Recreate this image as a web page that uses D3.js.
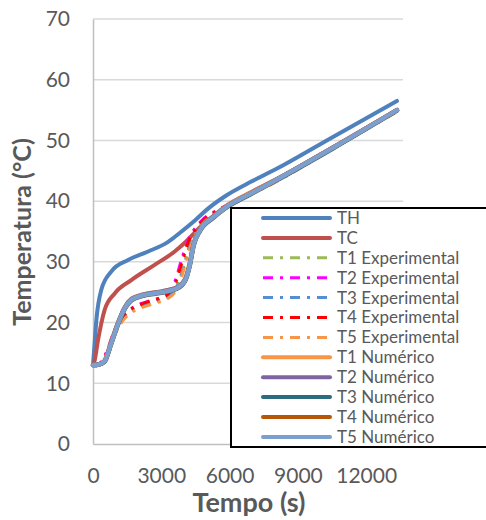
<!DOCTYPE html>
<html>
<head>
<meta charset="utf-8">
<script src="https://cdn.jsdelivr.net/npm/d3@7"></script>
<style>
  body { margin: 0; background: #fff; }
  text { font-family: Lato, "Open Sans", sans-serif; fill: #595959; }
</style>
</head>
<body>
<div id="chart"></div>
<script>
// time values (s) for each group of series
var tempoTH  = [0, 60, 150, 365, 800, 1540, 2420, 3300, 3820, 4500, 5000, 5800, 7000, 8000, 10500, 13350];
var tempoTC  = [0, 75, 220, 512, 951, 1683, 2708, 3587, 4100, 4700, 5300, 5800, 7000, 8000, 10500, 13350];
var tempoExp = [0, 300, 600, 900, 1200, 1500, 1800, 2100, 2400, 2700, 3000, 3300, 3600, 3900, 4200, 4500, 4800, 5400, 6000, 7000, 8000, 10000, 12000, 13350];
var tempoNum = [0, 250, 500, 800, 1100, 1400, 1700, 2200, 3000, 3700, 4050, 4250, 4420, 4700, 5300, 5800, 6900, 8000, 10500, 13350];

// temperatures (°C)
var TH = [13, 16, 20.5, 25.4, 28.4, 30.3, 31.7, 33.3, 34.8, 36.9, 38.6, 40.8, 43.3, 45.2, 50.5, 56.5];
var TC = [13, 13.8, 17.1, 22.1, 24.8, 27.0, 29.5, 31.7, 33.4, 35.7, 37.6, 39.1, 41.6, 43.5, 48.8, 55.0];

var T1exp = [13, 13.2, 14.8, 18.0, 20.3, 21.6, 22.4, 22.9, 23.3, 23.6, 23.9, 24.4, 25.6, 28.2, 32.3, 34.8, 36.4, 38.2, 39.4, 41.4, 43.3, 47.6, 52.0, 54.9];
var T2exp = [13, 13.3, 15.2, 18.3, 20.6, 21.8, 22.6, 23.1, 23.5, 23.8, 24.2, 24.9, 26.8, 30.5, 33.8, 35.6, 36.9, 38.4, 39.5, 41.5, 43.4, 47.7, 52.1, 55.0];
var T3exp = [13, 13.1, 14.6, 17.8, 20.1, 21.4, 22.2, 22.7, 23.1, 23.4, 23.7, 24.2, 25.3, 28.0, 32.0, 34.6, 36.3, 38.1, 39.3, 41.3, 43.2, 47.5, 51.9, 54.8];
var T4exp = [13, 13.3, 15.0, 18.2, 20.5, 21.7, 22.5, 23.0, 23.4, 23.7, 24.1, 24.7, 26.3, 29.8, 33.4, 35.3, 36.7, 38.3, 39.4, 41.4, 43.3, 47.6, 52.0, 54.9];
var T5exp = [13, 13.0, 14.3, 17.5, 19.7, 21.1, 21.9, 22.4, 22.8, 23.2, 23.5, 24.0, 25.0, 27.6, 31.6, 34.4, 36.2, 38.0, 39.2, 41.2, 43.1, 47.4, 51.8, 54.7];

var T1num = [13, 13.1, 13.7, 16.8, 20.0, 22.5, 23.9, 24.6, 25.1, 25.8, 27.2, 29.8, 33.0, 35.3, 37.5, 39.0, 41.3, 43.4, 48.7, 55.0];
var T2num = [13, 13.1, 13.6, 16.7, 19.9, 22.5, 23.9, 24.6, 25.1, 25.8, 27.1, 29.6, 32.9, 35.3, 37.5, 38.9, 41.2, 43.4, 48.7, 55.0];
var T3num = [13, 13.1, 13.5, 16.5, 19.7, 22.3, 23.7, 24.4, 24.9, 25.6, 26.9, 29.4, 32.7, 35.1, 37.3, 38.8, 41.1, 43.3, 48.6, 54.9];
var T4num = [13, 13.1, 13.6, 16.6, 19.8, 22.4, 23.8, 24.5, 25.0, 25.7, 27.0, 29.5, 32.8, 35.2, 37.4, 38.9, 41.2, 43.4, 48.7, 55.0];
var T5num = [13, 13.1, 13.6, 16.6, 19.8, 22.4, 23.8, 24.5, 25.0, 25.7, 27.0, 29.5, 32.8, 35.2, 37.4, 38.9, 41.2, 43.4, 48.7, 55.0];

// axis ticks
var xTicks = [0, 3000, 6000, 9000, 12000];
var yTicks = [0, 10, 20, 30, 40, 50, 60, 70];

// series table built from the arrays above
var series = [
  {name: "TH", t: tempoTH, v: TH, color: "#4F81BD", w: 4, dash: null},
  {name: "TC", t: tempoTC, v: TC, color: "#C0504D", w: 4, dash: null},
  {name: "T1 Experimental", t: tempoExp, v: T1exp, color: "#9BBB59", w: 3, dash: "10,7,3,7"},
  {name: "T2 Experimental", t: tempoExp, v: T2exp, color: "#FF00FF", w: 3, dash: "10,7,3,7"},
  {name: "T3 Experimental", t: tempoExp, v: T3exp, color: "#558ED5", w: 3, dash: "10,7,3,7"},
  {name: "T4 Experimental", t: tempoExp, v: T4exp, color: "#FF0000", w: 3, dash: "10,7,3,7"},
  {name: "T5 Experimental", t: tempoExp, v: T5exp, color: "#F79646", w: 3, dash: "10,7,3,7"},
  {name: "T1 Numérico", t: tempoNum, v: T1num, color: "#F79646", w: 4.5, dash: null},
  {name: "T2 Numérico", t: tempoNum, v: T2num, color: "#8064A2", w: 4.5, dash: null},
  {name: "T3 Numérico", t: tempoNum, v: T3num, color: "#2C6B80", w: 4.5, dash: null},
  {name: "T4 Numérico", t: tempoNum, v: T4num, color: "#B65708", w: 4.5, dash: null},
  {name: "T5 Numérico", t: tempoNum, v: T5num, color: "#7B9FCF", w: 4.5, dash: null}
];

var width = 486, height = 520;

var svg = d3.select("#chart").append("svg")
    .attr("width", width)
    .attr("height", height);

// scales (pixel ranges of the plot area)
var x = d3.scaleLinear().domain([0, 13616]).range([93, 403]);
var y = d3.scaleLinear().domain([0, 70]).range([444, 19]);

// gridlines
svg.selectAll("grid")
    .data(yTicks.slice(1))
  .enter().append("line")
    .attr("x1", x(0)).attr("x2", x.range()[1])
    .attr("y1", function(d) { return y(d); })
    .attr("y2", function(d) { return y(d); })
    .style("stroke", "#D9D9D9")
    .style("stroke-width", 1.5);

// y axis
var yAxis = svg.append("g")
    .attr("transform", "translate(" + x(0) + ",0)")
    .call(d3.axisLeft(y).tickValues(yTicks).tickSize(0).tickPadding(23));
yAxis.select(".domain").style("stroke", "#BFBFBF").style("stroke-width", 1.5);
yAxis.selectAll("text").style("font-size", "21px").style("fill", "#595959");

// x axis
var xAxis = svg.append("g")
    .attr("transform", "translate(0," + y(0) + ")")
    .call(d3.axisBottom(x).tickValues(xTicks).tickFormat(d3.format("d")).tickSize(0).tickPadding(24));
xAxis.select(".domain").style("stroke", "#BFBFBF").style("stroke-width", 1.5);
xAxis.selectAll("text").style("font-size", "21px").style("fill", "#595959");

// lines
var line = d3.line()
    .curve(d3.curveMonotoneX)
    .x(function(d) { return x(d[0]); })
    .y(function(d) { return y(d[1]); });

svg.selectAll("series")
    .data(series)
  .enter().append("path")
    .attr("d", function(s) { return line(s.t.map(function(t, i) { return [t, s.v[i]]; })); })
    .style("fill", "none")
    .style("stroke", function(s) { return s.color; })
    .style("stroke-width", function(s) { return s.w; })
    .style("stroke-dasharray", function(s) { return s.dash; })
    .style("stroke-linecap", function(s) { return s.dash ? "butt" : "round"; })
    .style("stroke-linejoin", "round");

// axis titles
svg.append("text")
    .attr("transform", "translate(22," + 232 + ") rotate(-90)")
    .attr("text-anchor", "middle")
    .attr("dy", "0.35em")
    .style("font-size", "25px")
    .style("font-weight", "bold")
    .text("Temperatura (°C)");

svg.append("text")
    .attr("x", 249)
    .attr("y", 503)
    .attr("text-anchor", "middle")
    .attr("dy", "0.35em")
    .style("font-size", "27px")
    .style("font-weight", "bold")
    .text("Tempo (s)");

// legend
var legend = svg.append("g");
legend.append("rect")
    .attr("x", 231).attr("y", 208)
    .attr("width", 270).attr("height", 239)
    .style("fill", "#fff")
    .style("stroke", "#000")
    .style("stroke-width", 2);

var item = legend.selectAll("item")
    .data(series)
  .enter().append("g")
    .attr("transform", function(d, i) { return "translate(0," + (218 + i * 19.9) + ")"; });

item.append("line")
    .attr("x1", 263).attr("x2", 330)
    .style("stroke", function(s) { return s.color; })
    .style("stroke-width", function(s) { return s.dash ? 3 : 4; })
    .style("stroke-dasharray", function(s) { return s.dash; })
    .style("stroke-linecap", function(s) { return s.dash ? "butt" : "round"; });

item.append("text")
    .attr("x", 337)
    .attr("dy", "0.35em")
    .style("font-size", "17px")
    .text(function(s) { return s.name; });
</script>
</body>
</html>
